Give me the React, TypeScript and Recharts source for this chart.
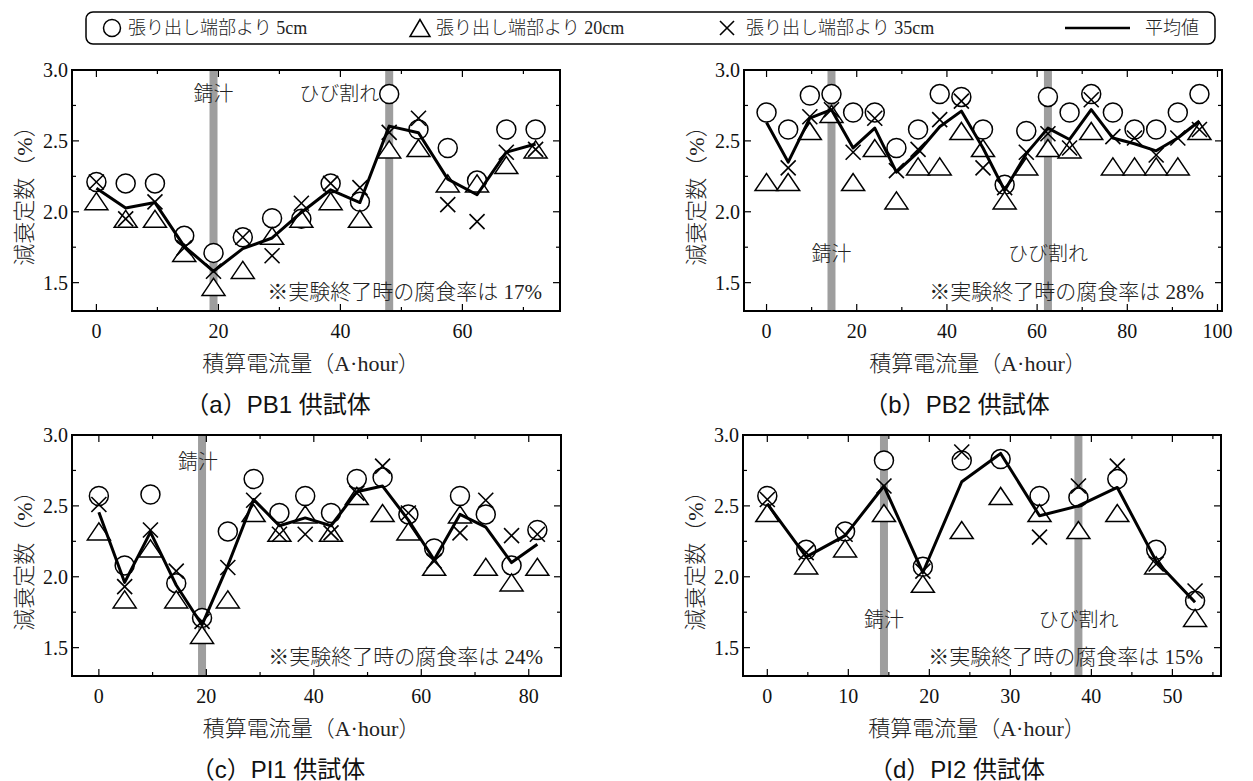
import React from 'react';
import { ComposedChart, Scatter, Line, XAxis, YAxis, ReferenceLine } from 'recharts';

const SERIF = "'Liberation Serif', 'Noto Sans CJK JP', serif";
const SANS = "'Liberation Sans', 'Noto Sans CJK JP', sans-serif";
const TXT = '#222';

// ---------- shared ticks ----------
const yMajorTicks = [1.5, 2.0, 2.5, 3.0];
const yMinorTicks = [1.75, 2.25, 2.75];
const yDomain: [number, number] = [1.3, 3.0];

// ---------- series names ----------
const seriesNames = ['張り出し端部より 5cm', '張り出し端部より 20cm', '張り出し端部より 35cm', '平均値'];

// ---------- panel (a) PB1 ----------
const xA = [0, 4.8, 9.6, 14.4, 19.2, 24, 28.8, 33.6, 38.4, 43.2, 48, 52.8, 57.6, 62.4, 67.2, 72];
const circleA = [2.21, 2.2, 2.2, 1.83, 1.71, 1.82, 1.955, 1.95, 2.2, 2.07, 2.83, 2.58, 2.45, 2.22, 2.58, 2.58];
const triangleA = [2.075, 1.95, 1.95, 1.71, 1.47, 1.59, 1.83, 1.95, 2.075, 1.95, 2.44, 2.45, 2.2, 2.2, 2.33, 2.44];
const crossA = [2.21, 1.95, 2.07, 1.745, 1.58, 1.82, 1.69, 2.06, 2.2, 2.17, 2.56, 2.66, 2.05, 1.93, 2.42, 2.44];
const meanA = [2.166, 2.026, 2.065, 1.756, 1.58, 1.74, 1.815, 1.995, 2.155, 2.065, 2.604, 2.557, 2.23, 2.12, 2.42, 2.478];
const xMajorA = [0, 20, 40, 60];
const xMinorA = [10, 30, 50, 70];
const bandsA = [19.2, 48];

// ---------- panel (b) PB2 ----------
const xB = [0, 4.8, 9.6, 14.4, 19.2, 24, 28.8, 33.6, 38.4, 43.2, 48, 52.8, 57.6, 62.4, 67.2, 72, 76.8, 81.6, 86.4, 91.2, 96];
const circleB = [2.7, 2.58, 2.82, 2.83, 2.7, 2.7, 2.45, 2.58, 2.83, 2.81, 2.58, 2.19, 2.57, 2.81, 2.7, 2.83, 2.7, 2.58, 2.58, 2.7, 2.83];
const triangleB = [2.21, 2.21, 2.57, 2.69, 2.21, 2.45, 2.08, 2.32, 2.32, 2.57, 2.45, 2.08, 2.32, 2.45, 2.44, 2.57, 2.32, 2.32, 2.32, 2.32, 2.57];
const crossB: (number | null)[] = [null, 2.31, 2.67, 2.72, 2.42, 2.66, 2.29, 2.44, 2.65, 2.78, 2.31, 2.17, 2.42, 2.55, 2.45, 2.79, 2.53, 2.52, 2.4, 2.52, 2.58];
const meanB = [2.63, 2.35, 2.66, 2.72, 2.45, 2.59, 2.28, 2.42, 2.6, 2.71, 2.45, 2.15, 2.41, 2.59, 2.51, 2.72, 2.52, 2.48, 2.43, 2.52, 2.64];
const xMajorB = [0, 20, 40, 60, 80, 100];
const xMinorB = [10, 30, 50, 70, 90];
const bandsB = [14.4, 62.4];

// ---------- panel (c) PI1 ----------
const xC = [0, 4.8, 9.6, 14.4, 19.2, 24, 28.8, 33.6, 38.4, 43.2, 48, 52.8, 57.6, 62.4, 67.2, 72, 76.8, 81.6];
const circleC = [2.57, 2.08, 2.58, 1.955, 1.71, 2.32, 2.69, 2.45, 2.57, 2.45, 2.69, 2.7, 2.44, 2.2, 2.57, 2.44, 2.08, 2.33];
const triangleC = [2.32, 1.84, 2.2, 1.84, 1.59, 1.84, 2.45, 2.31, 2.44, 2.31, 2.57, 2.45, 2.32, 2.07, 2.44, 2.07, 1.96, 2.07];
const crossC = [2.51, 1.93, 2.33, 2.04, 1.685, 2.065, 2.54, 2.3, 2.3, 2.31, 2.59, 2.78, 2.45, 2.11, 2.31, 2.54, 2.29, 2.3];
const meanC = [2.455, 1.96, 2.315, 1.94, 1.66, 2.08, 2.545, 2.36, 2.415, 2.36, 2.6, 2.64, 2.4, 2.12, 2.44, 2.35, 2.1, 2.23];
const xMajorC = [0, 20, 40, 60, 80];
const xMinorC = [10, 30, 50, 70];
const bandsC = [19.2];

// ---------- panel (d) PI2 ----------
const xD = [0, 4.8, 9.6, 14.4, 19.2, 24, 28.8, 33.6, 38.4, 43.2, 48, 52.8];
const circleD = [2.57, 2.19, 2.32, 2.82, 2.07, 2.82, 2.83, 2.57, 2.56, 2.69, 2.19, 1.83];
const triangleD = [2.45, 2.08, 2.2, 2.45, 1.95, 2.33, 2.57, 2.45, 2.33, 2.45, 2.08, 1.71];
const crossD: (number | null)[] = [2.545, 2.17, 2.3, 2.64, 2.04, 2.88, null, 2.28, 2.64, 2.78, 2.09, 1.9];
const meanD = [2.515, 2.14, 2.29, 2.64, 2.03, 2.67, 2.87, 2.43, 2.5, 2.63, 2.11, 1.82];
const xMajorD = [0, 10, 20, 30, 40, 50];
const xMinorD = [5, 15, 25, 35, 45, 55];
const bandsD = [14.4, 38.4];

// ---------- marker shapes ----------
const CircleShape = (p: any) => (
  <circle cx={p.cx} cy={p.cy} r={9.5} fill="#fff" stroke="#000" strokeWidth={1.5} />
);
const TriangleShape = (p: any) => (
  <polygon
    points={`${p.cx},${p.cy - 8.5} ${p.cx - 11.5},${p.cy + 8.5} ${p.cx + 11.5},${p.cy + 8.5}`}
    fill="#fff"
    stroke="#000"
    strokeWidth={1.5}
  />
);
const CrossShape = (p: any) => (
  <g stroke="#000" strokeWidth={1.6}>
    <line x1={p.cx - 7.5} y1={p.cy - 7.5} x2={p.cx + 7.5} y2={p.cy + 7.5} />
    <line x1={p.cx - 7.5} y1={p.cy + 7.5} x2={p.cx + 7.5} y2={p.cy - 7.5} />
  </g>
);

// ---------- ticks ----------
const BottomTick = (props: any) => {
  const { x, y, payload, majors } = props;
  const v = payload.value;
  const major = majors.includes(v);
  return (
    <g>
      <line x1={x} y1={y} x2={x} y2={y - (major ? 7 : 4)} stroke="#000" strokeWidth={1.2} />
      {major && (
        <text x={x} y={y + 20} textAnchor="middle" dominantBaseline="central" fontFamily={SERIF} fontSize={20} fill="#111">
          {v}
        </text>
      )}
    </g>
  );
};
const TopTick = (props: any) => {
  const { x, y, payload, majors } = props;
  const major = majors.includes(payload.value);
  return <line x1={x} y1={y} x2={x} y2={y + (major ? 7 : 4)} stroke="#000" strokeWidth={1.2} />;
};
const LeftTick = (props: any) => {
  const { x, y, payload } = props;
  const v = payload.value;
  const major = yMajorTicks.includes(v);
  return (
    <g>
      <line x1={x} y1={y} x2={x + (major ? 7 : 4)} y2={y} stroke="#000" strokeWidth={1.2} />
      {major && (
        <text x={x - 4} y={y} textAnchor="end" dominantBaseline="central" fontFamily={SERIF} fontSize={20} fill="#111">
          {v.toFixed(1)}
        </text>
      )}
    </g>
  );
};
const RightTick = (props: any) => {
  const { x, y, payload } = props;
  const major = yMajorTicks.includes(payload.value);
  return <line x1={x} y1={y} x2={x - (major ? 7 : 4)} y2={y} stroke="#000" strokeWidth={1.2} />;
};

const axisLine = { stroke: '#000', strokeWidth: 2, strokeLinecap: 'square' as const };

type BandLabel = { at: number; text: string; dx: number; dy: number; anchor: 'start' | 'middle' | 'end' };

type PanelProps = {
  left: number;
  top: number;
  width: number;
  plotRight: number;
  xs: number[];
  circles: number[];
  triangles: number[];
  crosses: (number | null)[];
  means: number[];
  xDomain: [number, number];
  xMajor: number[];
  xMinor: number[];
  bands: number[];
  bandLabels: BandLabel[];
  note: string;
  title: string;
  titleX: number;
};

const PLOT_LEFT = 72;
const CHART_H = 366;
const BOTTOM_AXIS_H = 105;

function toPoints(xs: number[], ys: (number | null)[]) {
  const pts: { x: number; y: number }[] = [];
  xs.forEach((x, i) => {
    const y = ys[i];
    if (y !== null && y !== undefined) pts.push({ x, y });
  });
  return pts;
}

function Panel(p: PanelProps) {
  const xTicks = [...p.xMajor, ...p.xMinor].sort((a, b) => a - b);
  const yTicks = [...yMajorTicks, ...yMinorTicks].sort((a, b) => a - b);
  const cjk = { fontFamily: SERIF, fill: TXT, fontWeight: 300 } as const;

  const xLabel = (props: any) => {
    const vb = props.viewBox || props;
    return (
      <g>
        <text x={vb.x + vb.width / 2 - 5} y={vb.y + 52} textAnchor="middle" dominantBaseline="central" fontSize={22} {...cjk}>
          積算電流量（A·hour）
        </text>
        <text x={p.titleX} y={vb.y + 93} textAnchor="middle" dominantBaseline="central" fontFamily={SANS} fontSize={24} fill="#111">
          {p.title}
        </text>
      </g>
    );
  };
  const yLabel = (props: any) => {
    const vb = props.viewBox || props;
    const cx = vb.x + 24;
    const cy = vb.y + vb.height / 2;
    return (
      <text x={cx} y={cy} transform={`rotate(-90 ${cx} ${cy})`} textAnchor="middle" dominantBaseline="central" fontSize={22} {...cjk}>
        減衰定数（%）
      </text>
    );
  };
  const bandLabel = (b: BandLabel) => (props: any) => {
    const vb = props.viewBox || props;
    return (
      <text x={vb.x + b.dx} y={vb.y + b.dy} textAnchor={b.anchor} dominantBaseline="central" fontSize={20} {...cjk}>
        {b.text}
      </text>
    );
  };
  const noteLabel = (props: any) => {
    const vb = props.viewBox || props;
    return (
      <text x={vb.x + vb.width - 18} y={vb.y - 19} textAnchor="end" dominantBaseline="central" fontSize={21} {...cjk}>
        {p.note}
      </text>
    );
  };

  return (
    <div style={{ position: 'absolute', left: p.left, top: p.top }}>
      <ComposedChart
        width={p.width}
        height={CHART_H}
        margin={{ top: 19, right: p.width - p.plotRight - 1, bottom: 0, left: 0 }}
      >
        <XAxis
          xAxisId="b"
          orientation="bottom"
          type="number"
          dataKey="x"
          domain={p.xDomain}
          allowDataOverflow
          ticks={xTicks}
          interval={0}
          height={BOTTOM_AXIS_H}
          tickSize={0}
          tickMargin={0}
          tickLine={false}
          axisLine={axisLine}
          tick={<BottomTick majors={p.xMajor} />}
          label={xLabel}
        />
        <XAxis
          xAxisId="t"
          orientation="top"
          type="number"
          dataKey="x"
          domain={p.xDomain}
          allowDataOverflow
          ticks={xTicks}
          interval={0}
          height={1}
          tickSize={0}
          tickMargin={0}
          tickLine={false}
          axisLine={axisLine}
          tick={<TopTick majors={p.xMajor} />}
        />
        <YAxis
          yAxisId="l"
          orientation="left"
          type="number"
          dataKey="y"
          domain={yDomain}
          allowDataOverflow
          ticks={yTicks}
          interval={0}
          width={PLOT_LEFT}
          tickSize={0}
          tickMargin={0}
          tickLine={false}
          axisLine={axisLine}
          tick={<LeftTick />}
          label={yLabel}
        />
        <YAxis
          yAxisId="r"
          orientation="right"
          type="number"
          dataKey="y"
          domain={yDomain}
          allowDataOverflow
          ticks={yTicks}
          interval={0}
          width={1}
          tickSize={0}
          tickMargin={0}
          tickLine={false}
          axisLine={axisLine}
          tick={<RightTick />}
        />
        {p.bands.map((b) => (
          <ReferenceLine key={`band-${b}`} xAxisId="b" yAxisId="l" x={b} stroke="#9e9e9e" strokeWidth={8} zIndex={50} />
        ))}
        {p.bandLabels.map((b, i) => (
          <ReferenceLine
            key={`bl-${i}`}
            xAxisId="b"
            yAxisId="l"
            x={b.at}
            stroke="none"
            strokeWidth={0}
            label={bandLabel(b)}
          />
        ))}
        <ReferenceLine xAxisId="b" yAxisId="l" y={1.3} stroke="none" strokeWidth={0} label={noteLabel} />
        <Scatter
          name={seriesNames[0]}
          xAxisId="b"
          yAxisId="l"
          data={toPoints(p.xs, p.circles)}
          shape={CircleShape}
          isAnimationActive={false}
        />
        <Scatter
          name={seriesNames[1]}
          xAxisId="b"
          yAxisId="l"
          data={toPoints(p.xs, p.triangles)}
          shape={TriangleShape}
          isAnimationActive={false}
        />
        <Scatter
          name={seriesNames[2]}
          xAxisId="b"
          yAxisId="l"
          data={toPoints(p.xs, p.crosses)}
          shape={CrossShape}
          isAnimationActive={false}
        />
        <Line
          name={seriesNames[3]}
          xAxisId="b"
          yAxisId="l"
          data={toPoints(p.xs, p.means)}
          dataKey="y"
          type="linear"
          stroke="#000"
          strokeWidth={3}
          strokeLinejoin="round"
          dot={false}
          activeDot={false}
          isAnimationActive={false}
          zIndex={700}
        />
      </ComposedChart>
    </div>
  );
}

function LegendBox() {
  const cy = 28;
  const txt = { fontFamily: SERIF, fontSize: 18, fill: TXT, fontWeight: 300, dominantBaseline: 'central' as const };
  return (
    <svg width={1253} height={50} style={{ position: 'absolute', left: 0, top: 0 }}>
      <rect x={86} y={12} width={1129} height={32} rx={7} ry={7} fill="#fff" stroke="#000" strokeWidth={1.5} />
      <circle cx={112} cy={cy} r={8.5} fill="#fff" stroke="#000" strokeWidth={1.5} />
      <text x={128} y={cy} {...txt}>{seriesNames[0]}</text>
      <polygon points={`420,${cy - 8.5} 410,${cy + 8.5} 430,${cy + 8.5}`} fill="#fff" stroke="#000" strokeWidth={1.5} />
      <text x={436} y={cy} {...txt}>{seriesNames[1]}</text>
      <g stroke="#000" strokeWidth={1.6}>
        <line x1={720} y1={cy - 7} x2={734} y2={cy + 7} />
        <line x1={720} y1={cy + 7} x2={734} y2={cy - 7} />
      </g>
      <text x={746} y={cy} {...txt}>{seriesNames[2]}</text>
      <line x1={1065} y1={cy} x2={1130} y2={cy} stroke="#000" strokeWidth={2.5} />
      <text x={1145} y={cy} {...txt}>{seriesNames[3]}</text>
    </svg>
  );
}

const note = (r: number) => `※実験終了時の腐食率は ${r}%`;

export default function App() {
  return (
    <div style={{ position: 'absolute', left: 0, top: 0, width: 1253, height: 781, overflow: 'hidden', background: '#fff' }}>
      <Panel
        left={0}
        top={50}
        width={600}
        plotRight={560}
        xs={xA}
        circles={circleA}
        triangles={triangleA}
        crosses={crossA}
        means={meanA}
        xDomain={[-4, 76]}
        xMajor={xMajorA}
        xMinor={xMinorA}
        bands={bandsA}
        bandLabels={[
          { at: bandsA[0], text: '錆汁', dx: 0, dy: 24, anchor: 'middle' },
          { at: bandsA[1], text: 'ひび割れ', dx: -10, dy: 24, anchor: 'end' },
        ]}
        note={note(17)}
        title="（a）PB1 供試体"
        titleX={278}
      />
      <Panel
        left={672}
        top={50}
        width={581}
        plotRight={550}
        xs={xB}
        circles={circleB}
        triangles={triangleB}
        crosses={crossB}
        means={meanB}
        xDomain={[-5, 101]}
        xMajor={xMajorB}
        xMinor={xMinorB}
        bands={bandsB}
        bandLabels={[
          { at: bandsB[0], text: '錆汁', dx: 0, dy: 184, anchor: 'middle' },
          { at: bandsB[1], text: 'ひび割れ', dx: 0, dy: 184, anchor: 'middle' },
        ]}
        note={note(28)}
        title="（b）PB2 供試体"
        titleX={285}
      />
      <Panel
        left={0}
        top={415}
        width={600}
        plotRight={561}
        xs={xC}
        circles={circleC}
        triangles={triangleC}
        crosses={crossC}
        means={meanC}
        xDomain={[-5, 86]}
        xMajor={xMajorC}
        xMinor={xMinorC}
        bands={bandsC}
        bandLabels={[{ at: bandsC[0], text: '錆汁', dx: -4, dy: 27, anchor: 'middle' }]}
        note={note(24)}
        title="（c）PI1 供試体"
        titleX={278}
      />
      <Panel
        left={671}
        top={415}
        width={581}
        plotRight={550}
        xs={xD}
        circles={circleD}
        triangles={triangleD}
        crosses={crossD}
        means={meanD}
        xDomain={[-3, 56]}
        xMajor={xMajorD}
        xMinor={xMinorD}
        bands={bandsD}
        bandLabels={[
          { at: bandsD[0], text: '錆汁', dx: 0, dy: 185, anchor: 'middle' },
          { at: bandsD[1], text: 'ひび割れ', dx: 0, dy: 185, anchor: 'middle' },
        ]}
        note={note(15)}
        title="（d）PI2 供試体"
        titleX={286}
      />
      <LegendBox />
    </div>
  );
}
